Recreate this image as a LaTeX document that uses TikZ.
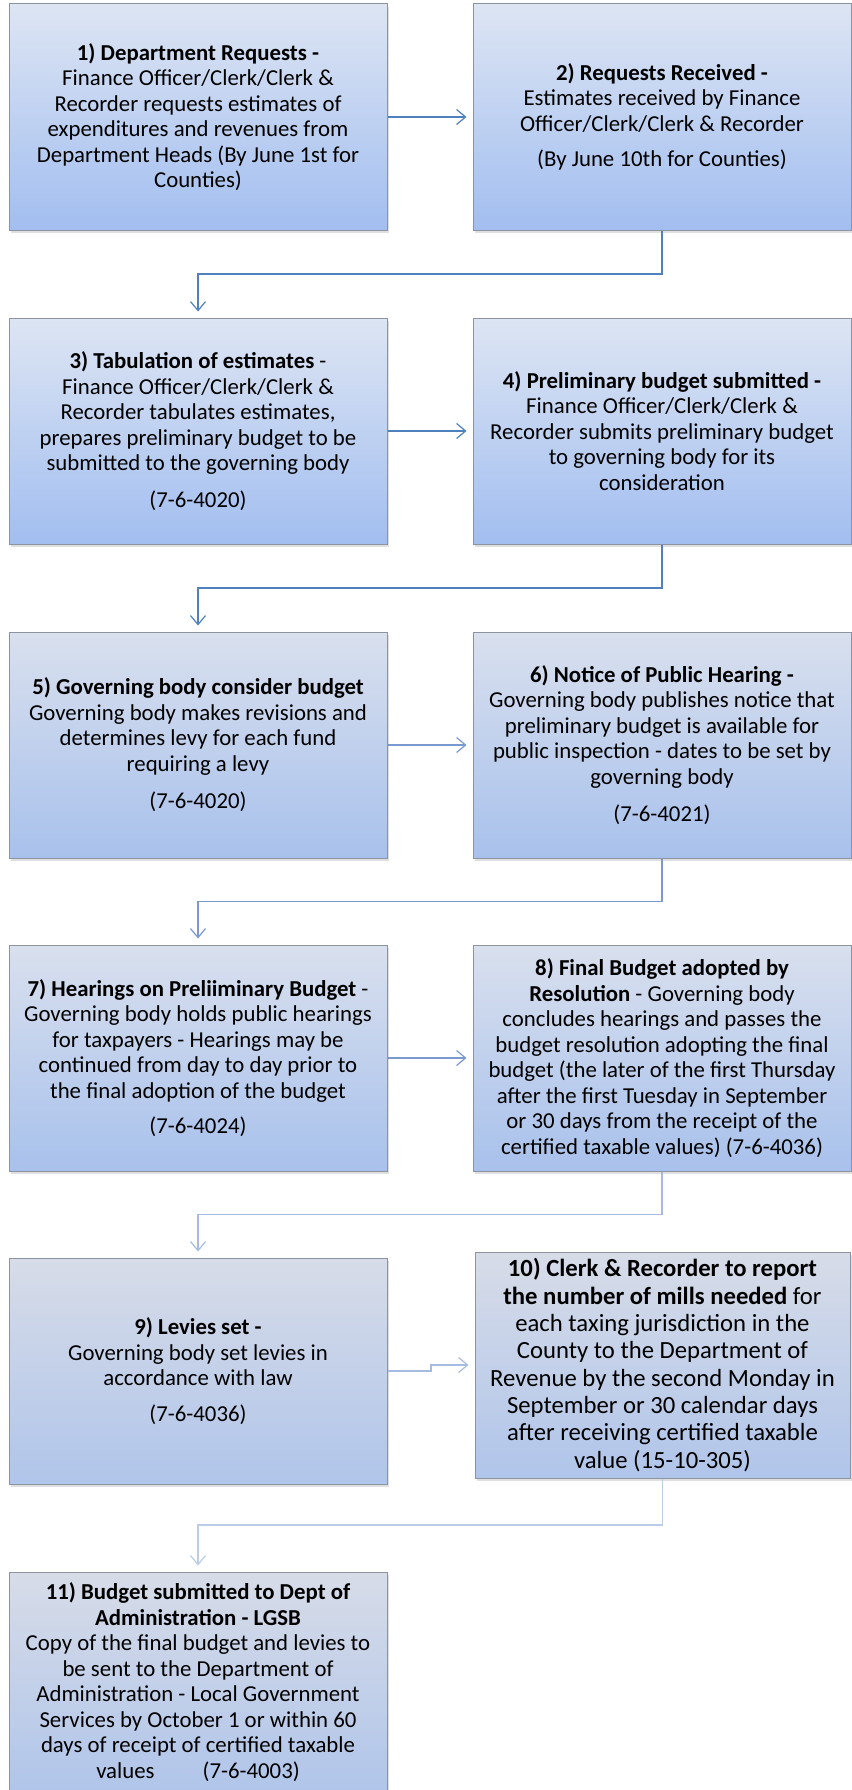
\documentclass[tikz,border=0pt]{standalone}
\usepackage{fontspec}
\setmainfont{Carlito}
\usepackage{tikz}
\usetikzlibrary{arrows.meta, positioning, calc, shadows}
\definecolor{boxtopA}{RGB}{221,229,243}
\definecolor{boxbotA}{RGB}{162,190,240}
\definecolor{boxtopB}{RGB}{217,224,238}
\definecolor{boxbotB}{RGB}{168,193,236}
\definecolor{boxtopC}{RGB}{215,220,232}
\definecolor{boxbotC}{RGB}{176,197,234}
\definecolor{boxline}{RGB}{140,148,160}
\definecolor{arrdark}{RGB}{79,129,189}
\definecolor{arrmid}{RGB}{122,153,206}
\definecolor{arrlight}{RGB}{165,188,224}
\definecolor{arrpale}{RGB}{186,204,232}

\begin{document}
\begin{tikzpicture}[
  x=1pt, y=1pt,
  node distance=87pt and 85pt,
  stage/.style={rectangle, draw=boxline, line width=1pt,
                minimum width=378pt, minimum height=226pt, inner sep=2pt,
                align=center, font=\fontsize{22.8}{25.5}\selectfont,
                drop shadow={opacity=0.25, shadow xshift=2pt, shadow yshift=-3pt}},
  early/.style={top color=boxtopA, bottom color=boxbotA},
  middle/.style={top color=boxtopB, bottom color=boxbotB},
  late/.style={top color=boxtopC, bottom color=boxbotC},
  arr/.style={-{Straight Barb[length=9pt, width=15pt]}, line width=1.2pt,
              shorten >=6pt},
]
\useasboundingbox (0,0) rectangle (851,-1790);

\node[stage, early] (b1) at (198,-117)
  {\textbf{1) Department Requests -}\\ Finance Officer/Clerk/Clerk \&\\
   Recorder requests estimates of\\ expenditures and revenues from\\
   Department Heads (By June 1st for\\ Counties)};
\node[stage, early, right=of b1] (b2)
  {\textbf{2) Requests Received -}\\ Estimates received by Finance\\
   Officer/Clerk/Clerk \& Recorder\\[10pt] (By June 10th for Counties)};
\node[stage, early, below=of b1] (b3)
  {\textbf{3) Tabulation of estimates} -\\ Finance Officer/Clerk/Clerk \&\\
   Recorder tabulates estimates,\\ prepares preliminary budget to be\\
   submitted to the governing body\\[11pt] (7-6-4020)};
\node[stage, early, right=of b3] (b4)
  {\textbf{4) Preliminary budget submitted -}\\ Finance Officer/Clerk/Clerk \&\\
   Recorder submits preliminary budget\\ to governing body for its\\
   consideration};
\node[stage, middle, below=of b3] (b5)
  {\textbf{5) Governing body consider budget}\\ Governing body makes revisions and\\
   determines levy for each fund\\ requiring a levy\\[12pt] (7-6-4020)};
\node[stage, middle, right=of b5] (b6)
  {\textbf{6) Notice of Public Hearing -}\\ Governing body publishes notice that\\
   preliminary budget is available for\\ public inspection - dates to be set by\\
   governing body\\[12pt] (7-6-4021)};
\node[stage, middle, below=86pt of b5] (b7)
  {\textbf{7) Hearings on Preliiminary Budget} -\\ Governing body holds public hearings\\
   for taxpayers - Hearings may be\\ continued from day to day prior to\\
   the final adoption of the budget\\[10pt] (7-6-4024)};
\node[stage, middle, right=of b7] (b8)
  {\textbf{8) Final Budget adopted by}\\ \textbf{Resolution} - Governing body\\
   concludes hearings and passes the\\ budget resolution adopting the final\\
   budget (the later of the first Thursday\\ after the first Tuesday in September\\
   or 30 days from the receipt of the\\ certified taxable values) (7-6-4036)};
\node[stage, late, below=86pt of b7] (b9)
  {\textbf{9) Levies set -}\\ Governing body set levies in\\
   accordance with law\\[10pt] (7-6-4036)};
\node[stage, late, right=87pt of b9, yshift=6pt, minimum width=375pt,
      font=\fontsize{24.7}{27.3}\selectfont] (b10)
  {\textbf{10) Clerk \& Recorder to report}\\ \textbf{the number of mills needed} for\\
   each taxing jurisdiction in the\\ County to the Department of\\
   Revenue by the second Monday in\\ September or 30 calendar days\\
   after receiving certified taxable\\ value (15-10-305)};
\node[stage, late, below=of b9, minimum height=220pt] (b11)
  {\textbf{11) Budget submitted to Dept of}\\ \textbf{Administration - LGSB}\\
   Copy of the final budget and levies to\\ be sent to the Department of\\
   Administration - Local Government\\ Services by October 1 or within 60\\
   days of receipt of certified taxable\\ values\hspace{48pt}(7-6-4003)};

% connectors
\draw[arr, arrdark] (b1) -- (b2);
\draw[arr, arrdark] (b2.south) |- ($(b2.south)!.5!(b3.north)$) -| (b3.north);
\draw[arr, arrdark] (b3) -- (b4);
\draw[arr, arrdark] (b4.south) |- ($(b4.south)!.5!(b5.north)$) -| (b5.north);
\draw[arr, arrmid] (b5) -- (b6);
\draw[arr, arrmid] (b6.south) |- ($(b6.south)!.5!(b7.north)$) -| (b7.north);
\draw[arr, arrmid] (b7) -- (b8);
\draw[arr, arrlight] (b8.south) |- ($(b8.south)!.5!(b9.north)$) -| (b9.north);
\draw[arr, arrlight] (b9.east) -| ($(b9.east)!.5!(b10.west)$) |- (b10.west);
\draw[arr, arrpale] (b10.south) |- ($(b10.south)!.5!(b11.north)$) -| (b11.north);

\end{tikzpicture}
\end{document}
